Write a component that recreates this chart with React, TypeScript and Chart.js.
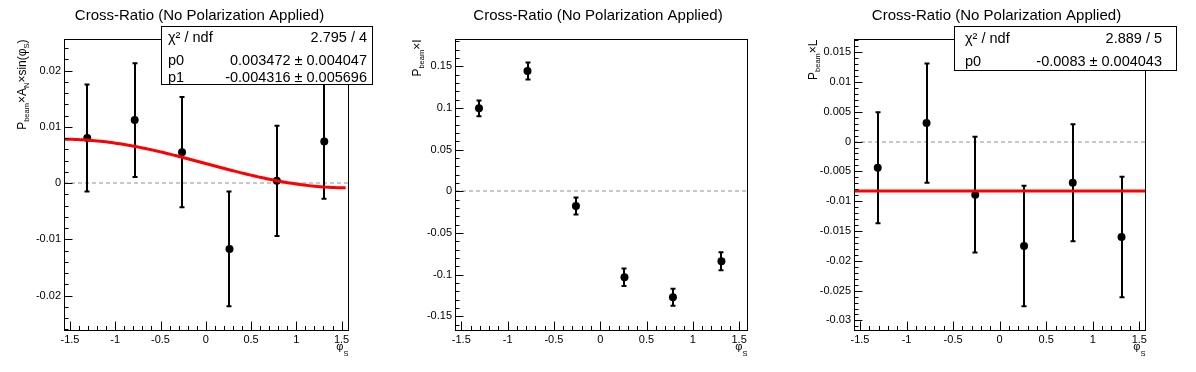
import React, { useEffect, useRef } from 'react';
import { Chart, registerables } from 'chart.js';

Chart.register(...registerables);

const FONT = '"Liberation Sans", Arial, Helvetica, sans-serif';

// ---- data ----
const phiCenters = [-1.309, -0.785, -0.262, 0.262, 0.785, 1.309];

const anValues = [0.0080, 0.0112, 0.0055, -0.0117, 0.0004, 0.0074];
const anErrors = [0.0095, 0.0101, 0.0098, 0.0102, 0.0098, 0.0102];

const iValues = [0.0995, 0.1442, -0.0176, -0.1031, -0.1271, -0.0839];
const iErrors = [0.0095, 0.0103, 0.0102, 0.0105, 0.0102, 0.0108];

const lValues = [-0.0044, 0.0031, -0.0089, -0.0175, -0.0069, -0.0160];
const lErrors = [0.0093, 0.0100, 0.0097, 0.0101, 0.0098, 0.0101];

// fit parameters (from the stats boxes)
const anFitP0 = 0.003472;
const anFitP1 = -0.004316;
const lFitP0 = -0.0083;

// ---- ticks ----
const xTicks = [-1.5, -1, -0.5, 0, 0.5, 1, 1.5];
const xTickLabels = ['-1.5', '-1', '-0.5', '0', '0.5', '1', '1.5'];

const anYTicks = [-0.02, -0.01, 0, 0.01, 0.02];
const anYTickLabels = ['-0.02', '-0.01', '0', '0.01', '0.02'];

const iYTicks = [-0.15, -0.1, -0.05, 0, 0.05, 0.1, 0.15];
const iYTickLabels = ['-0.15', '-0.1', '-0.05', '0', '0.05', '0.1', '0.15'];

const lYTicks = [-0.03, -0.025, -0.02, -0.015, -0.01, -0.005, 0, 0.005, 0.01, 0.015];
const lYTickLabels = ['-0.03', '-0.025', '-0.02', '-0.015', '-0.01', '-0.005', '0', '0.005', '0.01', '0.015'];

const titleText = 'Cross-Ratio (No Polarization Applied)';

const anStatsRows: [string, string][] = [
  ['χ² / ndf', '2.795 / 4'],
  ['p0', '0.003472 ± 0.004047'],
  ['p1', '-0.004316 ± 0.005696'],
];
const lStatsRows: [string, string][] = [
  ['χ² / ndf', '2.889 / 5'],
  ['p0', '-0.0083 ± 0.004043'],
];

type Part = { t: string; sub?: boolean };

interface StatsCfg {
  rows: [string, string][];
  box: [number, number, number, number];
  baselines: number[];
  labelX: number;
  valueRight: number;
}

interface PanelCfg {
  left: number;
  width: number;
  yAxisWidth: number;
  rightPad: number;
  xMin: number;
  xMax: number;
  yMin: number;
  yMax: number;
  yTicks: number[];
  yTickLabels: string[];
  yMinorStep: number;
  values: number[];
  errors: number[];
  yTitle: Part[];
  yTitleX: number;
  stats?: StatsCfg;
  fit?: (x: number) => number;
  fitRange?: [number, number];
}

function fitSamples(f: (x: number) => number, a: number, b: number) {
  const pts: { x: number; y: number }[] = [];
  const n = 100;
  for (let i = 0; i <= n; i++) {
    const x = a + ((b - a) * i) / n;
    pts.push({ x, y: f(x) });
  }
  return pts;
}

const panels: PanelCfg[] = [
  {
    left: 0,
    width: 399,
    yAxisWidth: 64,
    rightPad: 51,
    xMin: -1.566,
    xMax: 1.571,
    yMin: -0.0261,
    yMax: 0.0256,
    yTicks: anYTicks,
    yTickLabels: anYTickLabels,
    yMinorStep: 0.002,
    values: anValues,
    errors: anErrors,
    yTitle: [
      { t: 'P' }, { t: 'beam', sub: true }, { t: '×A' }, { t: 'N', sub: true },
      { t: '×sin(φ' }, { t: 'S', sub: true }, { t: ')' },
    ],
    yTitleX: 26,
    stats: {
      rows: anStatsRows,
      box: [161.5, 26.5, 372.5, 84.5],
      baselines: [42, 65, 82],
      labelX: 168,
      valueRight: 367,
    },
    fit: (x) => anFitP0 + anFitP1 * Math.sin(x),
    fitRange: [-1.5708, 1.545],
  },
  {
    left: 399,
    width: 398,
    yAxisWidth: 56,
    rightPad: 50,
    xMin: -1.568,
    xMax: 1.585,
    yMin: -0.1663,
    yMax: 0.1826,
    yTicks: iYTicks,
    yTickLabels: iYTickLabels,
    yMinorStep: 0.01,
    values: iValues,
    errors: iErrors,
    yTitle: [{ t: 'P' }, { t: 'beam', sub: true }, { t: '×I' }],
    yTitleX: 22,
    stats: undefined,
  },
  {
    left: 797,
    width: 399,
    yAxisWidth: 57,
    rightPad: 51,
    xMin: -1.564,
    xMax: 1.561,
    yMin: -0.0316,
    yMax: 0.0172,
    yTicks: lYTicks,
    yTickLabels: lYTickLabels,
    yMinorStep: 0.001,
    values: lValues,
    errors: lErrors,
    yTitle: [{ t: 'P' }, { t: 'beam', sub: true }, { t: '×L' }],
    yTitleX: 20,
    stats: {
      rows: lStatsRows,
      box: [954.5 - 797, 26.5, 1176.5 - 797, 70.5],
      baselines: [42.5, 65.5],
      labelX: 965 - 797,
      valueRight: 1162 - 797,
    },
    fit: () => lFitP0,
    fitRange: [-1.5708, 1.5708],
  },
];

function minorValues(min: number, max: number, step: number) {
  const out: number[] = [];
  const start = Math.ceil(min / step - 1e-9);
  const end = Math.floor(max / step + 1e-9);
  for (let k = start; k <= end; k++) out.push(k * step);
  return out;
}

function makePlugin(cfg: PanelCfg) {
  return {
    id: 'rootStyle',
    beforeDatasetsDraw(chart: any) {
      const { ctx, chartArea } = chart;
      const xs = chart.scales.x;
      const ys = chart.scales.y;
      ctx.save();
      // zero line
      const y0 = Math.round(ys.getPixelForValue(0));
      ctx.strokeStyle = '#c8c8c8';
      ctx.lineWidth = 2;
      ctx.setLineDash([4, 3]);
      ctx.beginPath();
      ctx.moveTo(chartArea.left, y0);
      ctx.lineTo(chartArea.right, y0);
      ctx.stroke();
      ctx.setLineDash([]);
      // error bars
      ctx.strokeStyle = '#000';
      ctx.lineWidth = 2;
      cfg.values.forEach((v, i) => {
        const px = Math.round(xs.getPixelForValue(phiCenters[i]));
        const top = ys.getPixelForValue(v + cfg.errors[i]);
        const bot = ys.getPixelForValue(v - cfg.errors[i]);
        ctx.beginPath();
        ctx.moveTo(px, top);
        ctx.lineTo(px, bot);
        ctx.stroke();
        ctx.beginPath();
        ctx.moveTo(px - 2.5, top);
        ctx.lineTo(px + 2.5, top);
        ctx.moveTo(px - 2.5, bot);
        ctx.lineTo(px + 2.5, bot);
        ctx.stroke();
      });
      ctx.restore();
    },
    afterDraw(chart: any) {
      const { ctx, chartArea } = chart;
      const xs = chart.scales.x;
      const ys = chart.scales.y;
      const L = Math.round(chartArea.left) + 0.5;
      const R = Math.round(chartArea.right) + 0.5;
      const T = Math.round(chartArea.top) + 0.5;
      const B = Math.round(chartArea.bottom) + 0.5;
      ctx.save();
      // frame
      ctx.strokeStyle = '#000';
      ctx.lineWidth = 1;
      ctx.strokeRect(L, T, R - L, B - T);
      // x ticks
      ctx.beginPath();
      minorValues(cfg.xMin, cfg.xMax, 0.1).forEach((v) => {
        const major = Math.abs(v * 2 - Math.round(v * 2)) < 1e-6;
        const px = Math.round(xs.getPixelForValue(v)) + 0.5;
        ctx.moveTo(px, B);
        ctx.lineTo(px, B - (major ? 9 : 4.5));
      });
      // y ticks
      const majStep = cfg.yMinorStep * 5;
      minorValues(cfg.yMin, cfg.yMax, cfg.yMinorStep).forEach((v) => {
        const r = v / majStep;
        const major = Math.abs(r - Math.round(r)) < 1e-6;
        const py = Math.round(ys.getPixelForValue(v)) + 0.5;
        ctx.moveTo(L, py);
        ctx.lineTo(L + (major ? 8 : 4), py);
      });
      ctx.stroke();

      // title
      ctx.fillStyle = '#000';
      ctx.font = `15px ${FONT}`;
      ctx.textAlign = 'center';
      ctx.textBaseline = 'alphabetic';
      ctx.fillText(titleText, chart.width / 2, 20);

      // y title (rotated, aligned to the top of the frame)
      const mainF = `12px ${FONT}`;
      const subF = `7.5px ${FONT}`;
      let total = 0;
      cfg.yTitle.forEach((p) => {
        ctx.font = p.sub ? subF : mainF;
        total += ctx.measureText(p.t).width;
      });
      ctx.save();
      ctx.translate(cfg.yTitleX, T);
      ctx.rotate(-Math.PI / 2);
      ctx.textAlign = 'left';
      let cx = -total;
      cfg.yTitle.forEach((p) => {
        ctx.font = p.sub ? subF : mainF;
        ctx.fillText(p.t, cx, p.sub ? 3 : 0);
        cx += ctx.measureText(p.t).width;
      });
      ctx.restore();

      // x title
      ctx.textAlign = 'left';
      ctx.font = subF;
      const sW = ctx.measureText('S').width;
      ctx.font = `11px ${FONT}`;
      const pW = ctx.measureText('φ').width;
      const xr = R;
      ctx.fillText('φ', xr - sW - pW, 350);
      ctx.font = subF;
      ctx.fillText('S', xr - sW, 356);

      // stats box
      if (cfg.stats) {
        const s = cfg.stats;
        const [bl, bt, br, bb] = s.box;
        ctx.fillStyle = '#fff';
        ctx.fillRect(bl, bt, br - bl, bb - bt);
        ctx.strokeStyle = '#000';
        ctx.lineWidth = 1;
        ctx.strokeRect(bl, bt, br - bl, bb - bt);
        ctx.fillStyle = '#000';
        ctx.font = `14.5px ${FONT}`;
        s.rows.forEach((row, i) => {
          ctx.textAlign = 'left';
          ctx.fillText(row[0], s.labelX, s.baselines[i]);
          ctx.textAlign = 'right';
          ctx.fillText(row[1], s.valueRight, s.baselines[i]);
        });
      }
      ctx.restore();
    },
  };
}

function Panel({ cfg }: { cfg: PanelCfg }) {
  const ref = useRef<HTMLCanvasElement | null>(null);
  useEffect(() => {
    if (!ref.current) return;
    const points = phiCenters.map((x, i) => ({ x, y: cfg.values[i] }));
    const datasets: any[] = [];
    if (cfg.fit && cfg.fitRange) {
      datasets.push({
        type: 'line',
        data: fitSamples(cfg.fit, cfg.fitRange[0], cfg.fitRange[1]),
        borderColor: '#ff0000',
        borderWidth: 3,
        pointRadius: 0,
        showLine: true,
        tension: 0,
        order: 0,
      });
    }
    datasets.push({
      type: 'scatter',
      data: points,
      pointRadius: 4,
      pointBackgroundColor: '#000',
      pointBorderColor: '#000',
      pointBorderWidth: 0,
      order: 1,
    });
    const tickFont = { family: FONT, size: 11 };
    const chart = new Chart(ref.current, {
      type: 'scatter',
      data: { datasets },
      options: {
        animation: false,
        responsive: false,
        maintainAspectRatio: false,
        events: [],
        layout: { padding: { left: 0, right: cfg.rightPad, top: 39, bottom: 0 } },
        plugins: {
          legend: { display: false },
          tooltip: { enabled: false },
          title: { display: false },
        },
        scales: {
          x: {
            type: 'linear',
            min: cfg.xMin,
            max: cfg.xMax,
            grid: { display: false, drawTicks: false },
            border: { display: false },
            ticks: {
              autoSkip: false,
              maxRotation: 0,
              padding: 3,
              color: '#000',
              font: tickFont,
              callback: (_v: any, i: number) => xTickLabels[i],
            },
            afterBuildTicks: (s: any) => {
              s.ticks = xTicks.map((v) => ({ value: v }));
            },
            afterFit: (s: any) => {
              s.height = 42;
              s.paddingLeft = 0;
              s.paddingRight = 0;
            },
          },
          y: {
            type: 'linear',
            min: cfg.yMin,
            max: cfg.yMax,
            grid: { display: false, drawTicks: false },
            border: { display: false },
            ticks: {
              autoSkip: false,
              padding: 3,
              color: '#000',
              font: tickFont,
              callback: (_v: any, i: number) => cfg.yTickLabels[i],
            },
            afterBuildTicks: (s: any) => {
              s.ticks = cfg.yTicks.map((v) => ({ value: v }));
            },
            afterFit: (s: any) => {
              s.width = cfg.yAxisWidth;
              s.paddingTop = 0;
              s.paddingBottom = 0;
            },
          },
        },
      } as any,
      plugins: [makePlugin(cfg)],
    });
    return () => chart.destroy();
  }, [cfg]);
  return (
    <canvas
      ref={ref}
      width={cfg.width}
      height={372}
      style={{ position: 'absolute', left: cfg.left, top: 0, width: cfg.width, height: 372, display: 'block' }}
    />
  );
}

export default function App() {
  return (
    <div style={{ position: 'fixed', left: 0, top: 0, width: 1196, height: 372, background: '#fff', overflow: 'hidden' }}>
      {panels.map((p, i) => (
        <Panel key={i} cfg={p} />
      ))}
    </div>
  );
}
